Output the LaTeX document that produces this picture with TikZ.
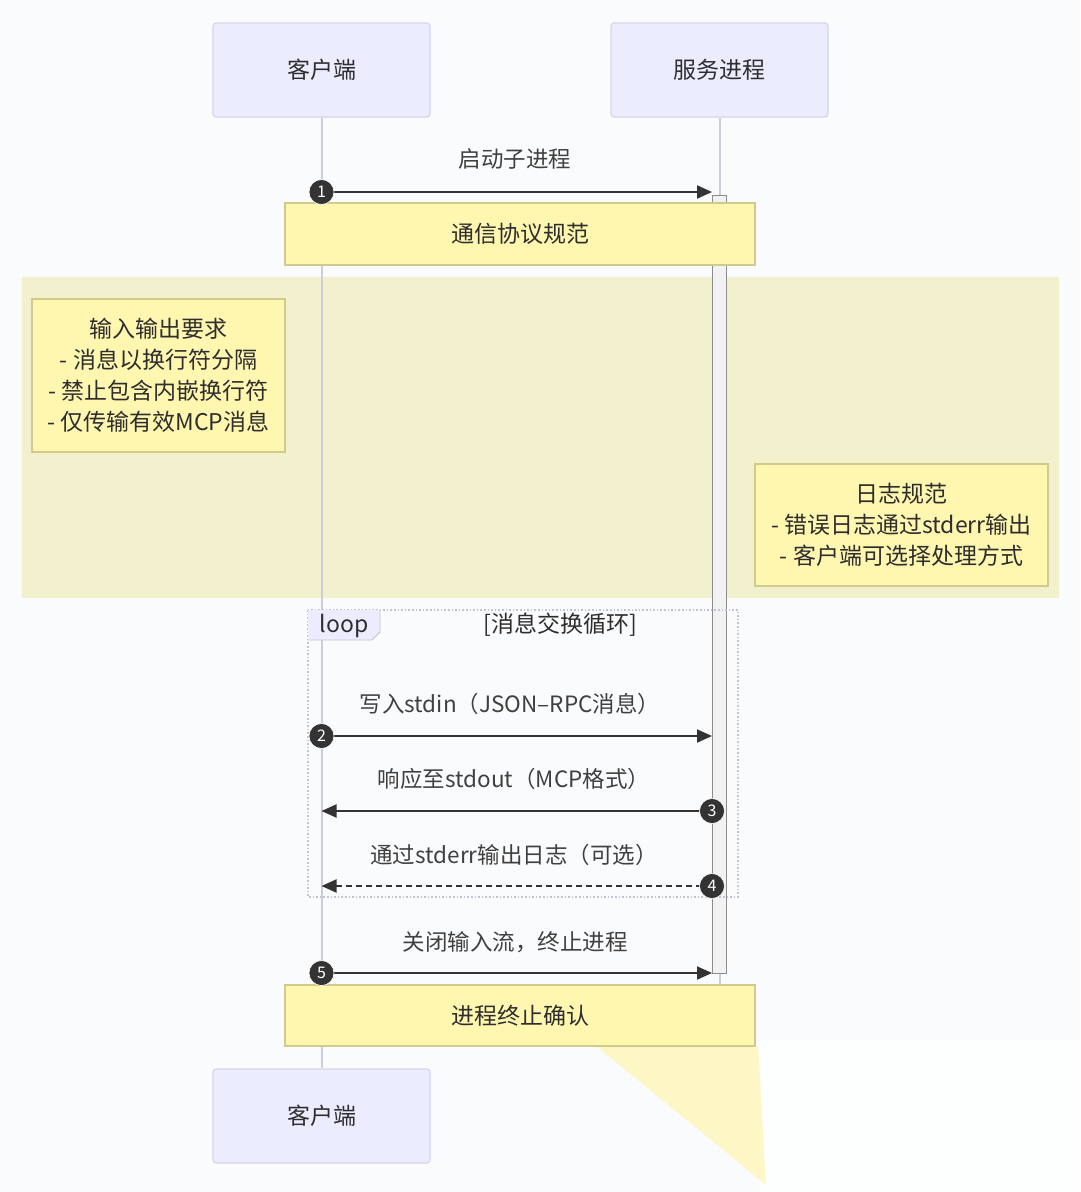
\documentclass[tikz,border=0pt]{standalone}
\usepackage{fontspec}
\setmainfont{Noto Sans CJK SC}
\usetikzlibrary{arrows.meta}
\definecolor{bgc}{RGB}{250,251,253}
\definecolor{actorfill}{RGB}{236,236,255}
\definecolor{actorline}{RGB}{214,214,234}
\definecolor{notefill}{RGB}{255,246,176}
\definecolor{noteline}{RGB}{208,202,140}
\definecolor{rectbg}{RGB}{242,240,205}
\definecolor{lifec}{RGB}{205,205,218}
\definecolor{msgc}{RGB}{51,51,51}
\definecolor{loopc}{RGB}{196,196,206}
\tikzset{
  actorbox/.style={draw=actorline, line width=1.2pt, fill=actorfill, rounded corners=3pt, minimum width=217pt, minimum height=94pt, font=\fontsize{23}{27}\selectfont, text=black!82},
  notebox/.style={draw=noteline, line width=1.2pt, fill=notefill, font=\fontsize{23}{31}\selectfont, align=center, text=black!82},
  lifeline/.style={draw=lifec, line width=2pt},
  msg/.style={draw=msgc, line width=2pt, -{Triangle[length=15pt,width=13pt]}},
  msglabel/.style={font=\fontsize{22.5}{27}\selectfont, text=black!75},
  seqnum/.style={circle, fill=msgc, draw=white, line width=0.6pt, minimum size=25pt, inner sep=0pt, text=white, font=\fontsize{16}{18}\selectfont},
}
\begin{document}
\begin{tikzpicture}[x=1pt,y=-1pt]
\useasboundingbox (0,0) rectangle (1080,1192);
\fill[bgc] (0,0) rectangle (1080,1192);
% rect background region
\fill[rectbg] (22,277) rectangle (1059,598);
% artifact wedge and light patch
\fill[white!70!bgc] (760,1040) rectangle (1080,1192);
\fill[notefill, opacity=0.7] (596,1046) -- (758,1046) -- (766,1185) -- cycle;
% actors
\node[actorbox] (c1) at (321.5,70) {客户端};
\node[actorbox] (s1) at (719.5,70) {服务进程};
\node[actorbox] (c2) at (321.5,1116) {客户端};
\coordinate (send) at (719.5,985);
% lifelines
\draw[lifeline] (c1.south) -- (c2.north);
\draw[lifeline] (s1.south) -- (send);
% activation
\node[draw=black!45, fill=white!95!black, line width=1pt, minimum width=14pt, minimum height=778pt, inner sep=0pt] (act) at (719,584) {};
% loop frame
\draw[loopc, line width=1.6pt, dotted] (308,610) rectangle (738,897);
\fill[actorfill] (308,610) -- (380,610) -- (380,632) -- (372,640) -- (308,640) -- cycle;
\draw[loopc, line width=0.8pt] (380,610) -- (380,632) -- (372,640) -- (308,640);
\node[msglabel, text=black!82, font=\fontsize{23}{27}\selectfont] (looplab) at (344,626) {loop};
\node[msglabel, text=black!82, font=\fontsize{23}{27}\selectfont] (looptitle) at (560,625) {[消息交换循环]};
% notes
\node[notebox, minimum width=470pt, minimum height=62pt] (n1) at (520,234) {通信协议规范};
\node[notebox, minimum width=253pt, minimum height=153pt, inner sep=0pt] (n2) at (158.5,375.5) {输入输出要求\\- 消息以换行符分隔\\- 禁止包含内嵌换行符\\- 仅传输有效MCP消息};
\node[notebox, minimum width=293pt, minimum height=122pt, inner sep=0pt] (n3) at (901.5,525) {日志规范\\- 错误日志通过stderr输出\\- 客户端可选择处理方式};
\node[notebox, minimum width=470pt, minimum height=61pt] (n4) at (520,1015.5) {进程终止确认};
% message coordinates
\coordinate (a1) at (321.5,192); \coordinate (b1) at (712,192);
\coordinate (a2) at (321.5,736); \coordinate (b2) at (712,736);
\coordinate (a3) at (712,811); \coordinate (b3) at (321.5,811);
\coordinate (a4) at (712,886); \coordinate (b4) at (321.5,886);
\coordinate (a5) at (321.5,973); \coordinate (b5) at (712,973);
% messages
\node[msglabel] (l1) at (515,159) {启动子进程};
\draw[msg] (a1) -- (b1);
\node[seqnum] (m1) at (a1) {1};
\node[msglabel] (l2) at (510,704) {写入stdin（JSON–RPC消息）};
\draw[msg] (a2) -- (b2);
\node[seqnum] (m2) at (a2) {2};
\node[msglabel] (l3) at (514,779) {响应至stdout（MCP格式）};
\draw[msg] (a3) -- (b3);
\node[seqnum] (m3) at (a3) {3};
\node[msglabel] (l4) at (514,855) {通过stderr输出日志（可选）};
\draw[msg, dashed, dash pattern=on 6pt off 4pt] (a4) -- (b4);
\node[seqnum] (m4) at (a4) {4};
\node[msglabel] (l5) at (515,942) {关闭输入流，终止进程};
\draw[msg] (a5) -- (b5);
\node[seqnum] (m5) at (a5) {5};
\end{tikzpicture}
\end{document}
